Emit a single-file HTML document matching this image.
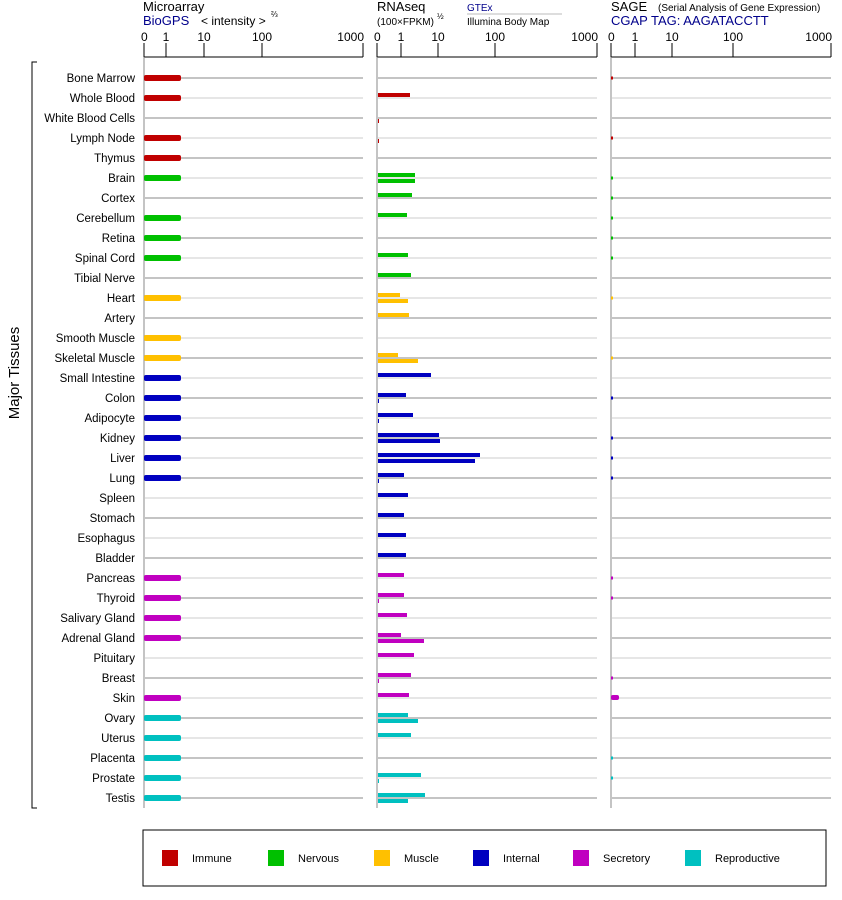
<!DOCTYPE html>
<html><head><meta charset="utf-8"><style>
body{margin:0;background:#fff;}
svg{display:block;font-family:"Liberation Sans",Arial,sans-serif;}
</style></head><body>
<svg id="s" width="842" height="900" xmlns="http://www.w3.org/2000/svg">
<rect width="842" height="900" fill="#fff"/>
<text x="143" y="11" font-size="13">Microarray</text>
<text x="143" y="25" font-size="13" fill="#00008b">BioGPS</text>
<text x="201" y="25" font-size="12">&lt; intensity &gt;</text>
<text x="271" y="17" font-size="8">⅔</text>
<text x="377" y="11" font-size="13">RNAseq</text>
<text x="377" y="25" font-size="10">(100×FPKM)</text>
<text x="437" y="19" font-size="8">½</text>
<text x="467" y="11" font-size="10" fill="#00008b">GTEx</text>
<line x1="467" y1="14" x2="562" y2="14" stroke="#bbb"/>
<text x="467" y="25" font-size="10">Illumina Body Map</text>
<text x="611" y="11" font-size="13">SAGE</text>
<text x="658" y="11" font-size="10">(Serial Analysis of Gene Expression)</text>
<text x="611" y="25" font-size="13" fill="#00008b">CGAP TAG: AAGATACCTT</text>
<text transform="translate(19,373) rotate(-90)" font-size="15" text-anchor="middle">Major Tissues</text>
<path d="M37 62 H32 V808 H37" fill="none" stroke="#000"/>
<g id="g"></g>
<rect x="143" y="830" width="683" height="56" fill="none" stroke="#000"/>
<g font-size="11">
<rect x="162" y="850" width="16" height="16" fill="#c00000"/><text x="192" y="862">Immune</text>
<rect x="268" y="850" width="16" height="16" fill="#00c000"/><text x="298" y="862">Nervous</text>
<rect x="374" y="850" width="16" height="16" fill="#ffc000"/><text x="404" y="862">Muscle</text>
<rect x="473" y="850" width="16" height="16" fill="#0000c0"/><text x="503" y="862">Internal</text>
<rect x="573" y="850" width="16" height="16" fill="#c000c0"/><text x="603" y="862">Secretory</text>
<rect x="685" y="850" width="16" height="16" fill="#00c0c0"/><text x="715" y="862">Reproductive</text>
</g>
</svg>
<script>
const N="http://www.w3.org/2000/svg",g=document.getElementById('g');
function el(t,a,txt){const e=document.createElementNS(N,t);for(const k in a)e.setAttribute(k,a[k]);if(txt)e.textContent=txt;g.appendChild(e);return e;}
const panels=[[144,[144,166,204,262,363]],[377,[377,401,438,495,597]],[611,[611,635,672,733,831]]];
const lbl=['0','1','10','100','1000'];
for(const [x0,t] of panels){
 el('line',{x1:x0,y1:57,x2:t[4],y2:57,stroke:'#000'});
 el('line',{x1:x0,y1:57,x2:x0,y2:808,stroke:'#888'});
 t.forEach((x,i)=>{el('line',{x1:x,y1:43,x2:x,y2:57,stroke:'#000'});
  el('text',{x:i==4?x+1:(i==0?x-3:x),y:41,'font-size':12,'text-anchor':i==4?'end':(i==0?'start':'middle')},lbl[i]);});
}
const names=['Bone Marrow','Whole Blood','White Blood Cells','Lymph Node','Thymus','Brain','Cortex','Cerebellum','Retina','Spinal Cord','Tibial Nerve','Heart','Artery','Smooth Muscle','Skeletal Muscle','Small Intestine','Colon','Adipocyte','Kidney','Liver','Lung','Spleen','Stomach','Esophagus','Bladder','Pancreas','Thyroid','Salivary Gland','Adrenal Gland','Pituitary','Breast','Skin','Ovary','Uterus','Placenta','Prostate','Testis'];
const col=i=>i<5?'#c00000':i<11?'#00c000':i<15?'#ffc000':i<25?'#0000c0':i<32?'#c000c0':'#00c0c0';
const noMicro=[2,6,10,12,21,22,23,24,29,30];
const rna={1:[410],2:[0,379],3:[0,379],5:[415,415],6:[412],7:[407],9:[408],10:[411],11:[400,408],12:[409],14:[398,418],15:[431],16:[406,379],17:[413,379],18:[439,440],19:[480,475],20:[404,379],21:[408],22:[404],23:[406],24:[406],25:[404],26:[404,379],27:[407],28:[401,424],29:[414],30:[411,379],31:[409],32:[408,418],33:[411],35:[421,379],36:[425,408]};
const sage=[0,3,5,6,7,8,9,11,14,16,18,19,20,25,26,30,34,35];
names.forEach((n,i)=>{const y=78+20*i,c=col(i),lc=i%2?'#ccc':'#888';
 el('text',{x:135,y:y+4,'font-size':11.5,'text-anchor':'end'},n);
 el('line',{x1:145,y1:y,x2:363,y2:y,stroke:lc});
 el('line',{x1:378,y1:y,x2:597,y2:y,stroke:lc});
 el('line',{x1:612,y1:y,x2:831,y2:y,stroke:lc});
 if(!noMicro.includes(i)) el('rect',{x:144,y:y-3,width:37,height:6,rx:2,fill:c});
 const r=rna[i]; if(r){ if(r[0])el('rect',{x:378,y:y-5,width:r[0]-378,height:4,fill:c}); if(r[1])el('rect',{x:378,y:y+1,width:r[1]-378,height:4,fill:c}); }
 if(sage.includes(i)) el('rect',{x:611,y:y-1.5,width:2,height:3,fill:c});
 if(i==31) el('rect',{x:611,y:y-3,width:8,height:5,rx:2,fill:c});
});
</script>
</body></html>
